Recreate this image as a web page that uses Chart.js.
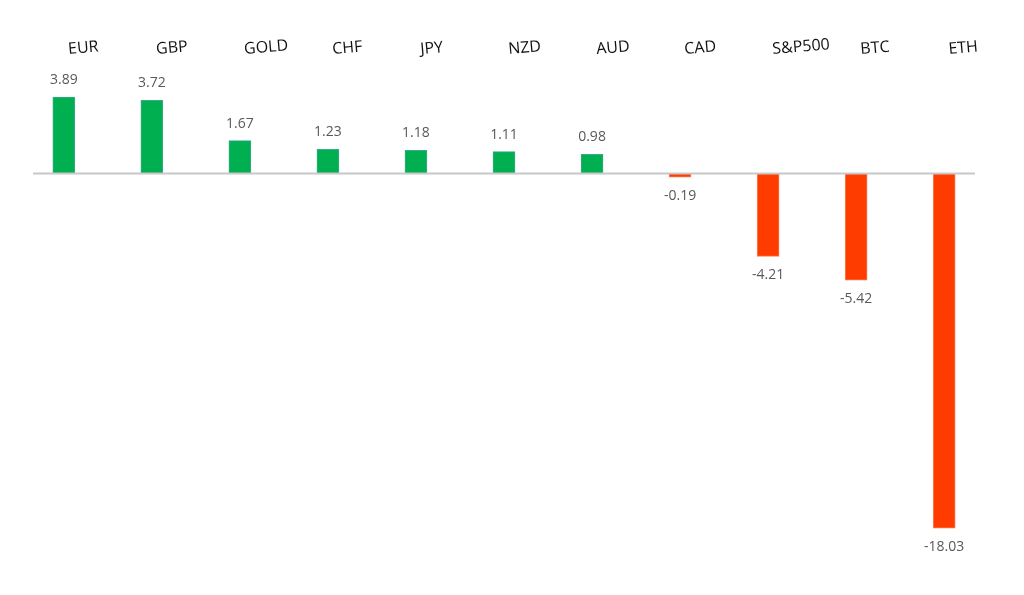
<!DOCTYPE html>
<html>
<head>
<meta charset="utf-8">
<script src="https://cdn.jsdelivr.net/npm/chart.js@4.4.1/dist/chart.umd.min.js"></script>
<style>
  html, body { margin: 0; padding: 0; background: #fff; }
  #wrap { width: 1024px; height: 595px; }
</style>
</head>
<body>
<div id="wrap"><canvas id="chart"></canvas></div>
<script>
// Data
const categories = ["EUR", "GBP", "GOLD", "CHF", "JPY", "NZD", "AUD", "CAD", "S&P500", "BTC", "ETH"];
const changes = [3.89, 3.72, 1.67, 1.23, 1.18, 1.11, 0.98, -0.19, -4.21, -5.42, -18.03];

const GREEN = "#00b050";
const RED = "#ff3c00";

// Zero line + value labels
const annotate = {
    id: "annotate",
    afterDatasetsDraw(chart) {
        const { ctx, chartArea, scales } = chart;
        const y0 = scales.y.getPixelForValue(0);
        ctx.save();
        ctx.strokeStyle = "#c8c8c8";
        ctx.lineWidth = 2;
        ctx.beginPath();
        ctx.moveTo(chartArea.left, y0);
        ctx.lineTo(chartArea.right, y0);
        ctx.stroke();

        ctx.font = "14px 'Open Sans', sans-serif";
        ctx.fillStyle = "#595959";
        ctx.textAlign = "center";
        ctx.textBaseline = "middle";
        chart.getDatasetMeta(0).data.forEach((bar, i) => {
            const v = changes[i];
            const y = v >= 0 ? bar.y - 17 : bar.y + 19;
            ctx.fillText(v.toFixed(2), bar.x, y);
        });
        ctx.restore();
    }
};

document.addEventListener("DOMContentLoaded", () => {
    const ctx = document.getElementById("chart").getContext("2d");
    new Chart(ctx, {
        type: "bar",
        data: {
            datasets: [
                {
                    data: changes.map((v, i) => ({ x: i, y: v })),
                    backgroundColor: changes.map(v => (v >= 0 ? GREEN : RED)),
                    borderColor: changes.map(v => (v >= 0 ? "#3aa98c" : "#ff7a50")),
                    borderWidth: 1,
                    barThickness: 22,
                },
            ],
        },
        options: {
            responsive: true,
            maintainAspectRatio: false,
            animation: false,
            layout: { padding: { left: 33, right: 49, top: 27, bottom: 28 } },
            plugins: {
                legend: { display: false },
                tooltip: { enabled: false },
            },
            scales: {
                x: {
                    type: "linear",
                    position: "top",
                    offset: false,
                    min: -0.35,
                    max: 10.35,
                    grid: { display: false },
                    border: { display: false },
                    afterBuildTicks: (scale) => {
                        scale.ticks = categories.map((c, i) => ({ value: i }));
                    },
                    ticks: {
                        autoSkip: false,
                        minRotation: 5,
                        maxRotation: 5,
                        padding: 8,
                        labelOffset: 6,
                        color: "#111",
                        font: { family: "'Open Sans', sans-serif", size: 16 },
                        callback: (v) => categories[v],
                    },
                },
                y: {
                    display: false,
                    min: -20,
                    max: 5,
                },
            },
        },
        plugins: [annotate],
    });
});
</script>
</body>
</html>
